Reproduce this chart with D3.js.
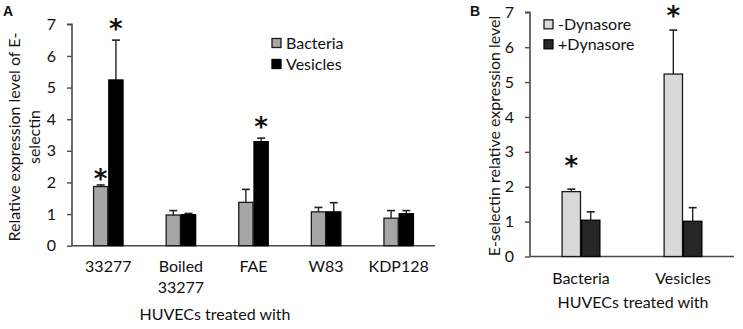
<!DOCTYPE html>
<html><head><meta charset="utf-8">
<script src="https://cdn.jsdelivr.net/npm/d3@7"></script>
<style>body{margin:0;background:#fff}svg{display:block}text{font-family:Lato,"Open Sans",sans-serif;fill:#111}</style>
</head><body>
<svg id="c" width="743" height="329"></svg>
<script>
// Panel A data
const catsA = [["33277"], ["Boiled", "33277"], ["FAE"], ["W83"], ["KDP128"]];
const seriesA = ["Bacteria", "Vesicles"];
const bacteria = [1.87, 0.97, 1.37, 1.07, 0.87];
const bacteriaErr = [0.05, 0.14, 0.41, 0.14, 0.24];
const vesicles = [5.24, 0.98, 3.29, 1.07, 1.01];
const vesiclesErr = [1.26, 0.04, 0.11, 0.29, 0.10];
const starBacteria = [2.23, null, null, null, null];
const starVesicles = [6.98, null, 3.88, null, null];
const ticksA = [0, 1, 2, 3, 4, 5, 6, 7];
// Panel B data
const catsB = ["Bacteria", "Vesicles"];
const seriesB = ["-Dynasore", "+Dynasore"];
const minusDyn = [1.86, 5.23];
const minusErr = [0.07, 1.26];
const plusDyn = [1.04, 1.01];
const plusErr = [0.24, 0.39];
const starMinus = [2.72, 7.01];
const starPlus = [null, null];
const ticksB = [0, 1, 2, 3, 4, 5, 6, 7];

const svg = d3.select("#c");
const axisCol = "#4a4a4a";

function panel(o) {
  const g = svg.append("g");
  const x = d3.scaleBand().domain(d3.range(o.n)).range(o.xr).paddingInner(o.pi).paddingOuter(o.pi / 2);
  const xs = d3.scaleBand().domain([0, 1]).range([0, x.bandwidth()]);
  const y = d3.scaleLinear().domain([0, 7]).range(o.yr);
  // y axis
  const ya = d3.axisLeft(y).tickValues(o.ticks).tickSize(5).tickPadding(11).tickFormat(d3.format("d"));
  const yg = g.append("g").attr("transform", `translate(${o.xr[0]},0)`).call(ya);
  yg.select(".domain").attr("stroke", axisCol).attr("stroke-width", 1.6).attr("d", `M-5,${y(7)}H0V${y(0)}`);
  yg.selectAll(".tick line").attr("stroke", axisCol).attr("stroke-width", 1.4);
  yg.selectAll(".tick text").style("font-size", "16px").attr("fill", "#111").style("font-family", "Lato");
  // x axis line
  g.append("line").attr("x1", o.xr[0]).attr("x2", o.xr[1]).attr("y1", y(0)).attr("y2", y(0))
    .attr("stroke", axisCol).attr("stroke-width", 1.6);
  // bars
  o.series.forEach((s, si) => {
    const vals = s.vals, errs = s.errs, stars = s.stars;
    const bw = xs.bandwidth();
    vals.forEach((v, i) => {
      const bx = x(i) + xs(si);
      const cx = bx + bw / 2;
      // error bar
      g.append("line").attr("x1", cx).attr("x2", cx).attr("y1", y(v)).attr("y2", y(v + errs[i]))
        .attr("stroke", "#222").attr("stroke-width", 1.4);
      g.append("line").attr("x1", cx - 4).attr("x2", cx + 4).attr("y1", y(v + errs[i])).attr("y2", y(v + errs[i]))
        .attr("stroke", "#222").attr("stroke-width", 1.6);
      g.append("rect").attr("x", bx + 0.5).attr("y", y(v)).attr("width", bw - 1).attr("height", y(0) - y(v))
        .attr("fill", s.fill).attr("stroke", s.stroke).attr("stroke-width", 1.3);
      if (stars[i] != null) {
        g.append("text").attr("x", cx).attr("y", y(stars[i]) + 13).attr("text-anchor", "middle")
          .style("font-size", "26px").style("font-weight", "bold").style("font-family", "DejaVu Sans").text("*");
      }
    });
  });
  // category labels
  o.cats.forEach((c, i) => {
    const lines = Array.isArray(c) ? c : [c];
    lines.forEach((l, li) => {
      g.append("text").attr("x", x(i) + x.bandwidth() / 2).attr("y", o.catY + li * 21)
        .attr("text-anchor", "middle").style("font-size", "16px").text(l);
    });
  });
  // x title
  g.append("text").attr("x", o.titleX).attr("y", o.titleY).attr("text-anchor", "middle")
    .style("font-size", "16px").text("HUVECs treated with");
  // y title
  o.ylab.forEach((l, li) => {
    g.append("text").attr("transform", `translate(${o.ylabX[li]},${o.ylabY}) rotate(-90)`)
      .attr("text-anchor", "middle").style("font-size", "16px").text(l);
  });
  // legend
  o.series.forEach((s, si) => {
    const ly = o.leg[1] + si * o.legStep;
    g.append("rect").attr("x", o.leg[0]).attr("y", ly - 4.5).attr("width", 9).attr("height", 9)
      .attr("fill", s.fill).attr("stroke", s.stroke).attr("stroke-width", 1.3);
    g.append("text").attr("x", o.leg[0] + 14).attr("y", ly + 6).style("font-size", "16px").text(s.name);
  });
  // panel letter
  g.append("text").attr("x", o.letter[0]).attr("y", o.letter[1]).style("font-size", "14px")
    .style("font-weight", "bold").style("font-family", "Liberation Sans, Arial").text(o.letterText);
}

panel({
  n: catsA.length, cats: catsA, xr: [72, 435], pi: 0.58, yr: [245.7, 24.3], ticks: ticksA,
  series: [
    {name: seriesA[0], vals: bacteria, errs: bacteriaErr, stars: starBacteria, fill: "#a6a6a6", stroke: "#1a1a1a"},
    {name: seriesA[1], vals: vesicles, errs: vesiclesErr, stars: starVesicles, fill: "#000", stroke: "#000"}
  ],
  catY: 272, titleX: 215, titleY: 320,
  ylab: ["Relative expression level of E-", "selectin"], ylabX: [20, 40], ylabY: 137,
  leg: [272, 43], legStep: 21, letter: [3, 16], letterText: "A"
});
panel({
  n: catsB.length, cats: catsB, xr: [530, 734], pi: 0.62, yr: [256.5, 12.3], ticks: ticksB,
  series: [
    {name: seriesB[0], vals: minusDyn, errs: minusErr, stars: starMinus, fill: "#d9d9d9", stroke: "#1a1a1a"},
    {name: seriesB[1], vals: plusDyn, errs: plusErr, stars: starPlus, fill: "#262626", stroke: "#000"}
  ],
  catY: 284, titleX: 633, titleY: 308,
  ylab: ["E-selectin relative expression level"], ylabX: [500], ylabY: 136,
  leg: [544, 24.3], legStep: 20, letter: [470, 16], letterText: "B"
});
</script>
</body></html>
